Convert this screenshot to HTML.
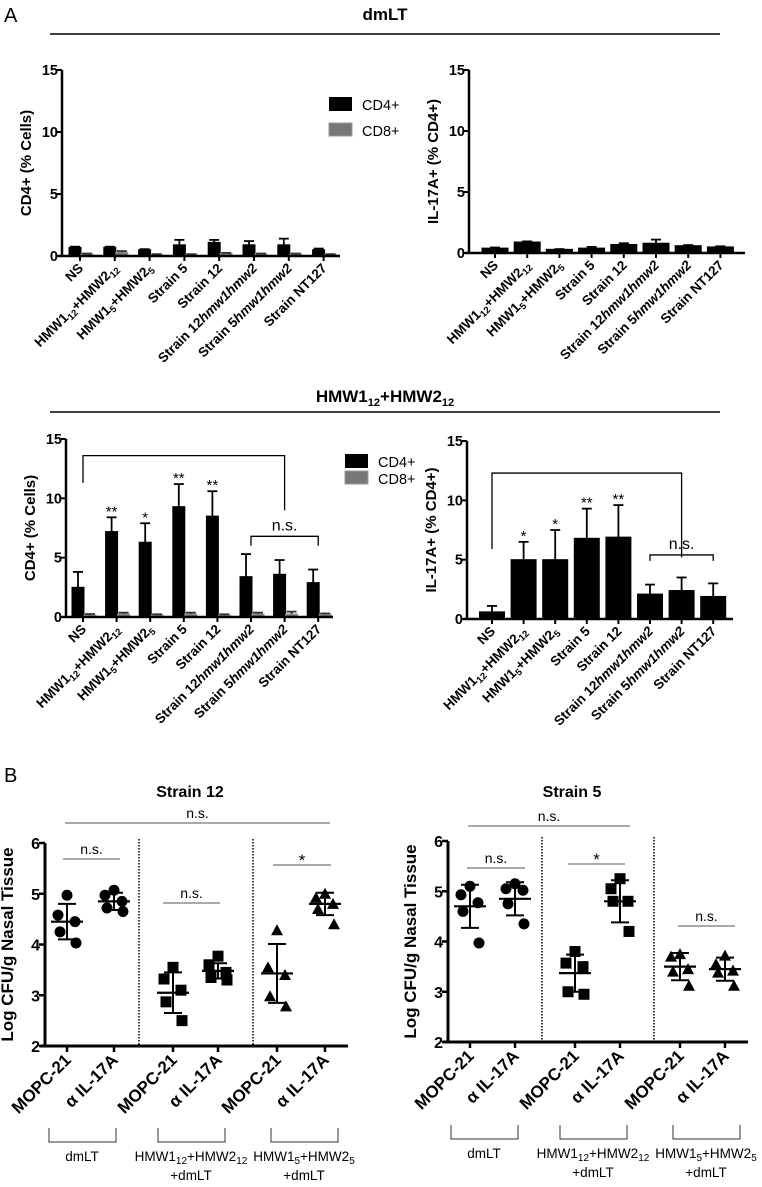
<!DOCTYPE html>
<html><head><meta charset="utf-8"><style>
html,body{margin:0;padding:0;background:#fff}
svg{display:block;font-family:"Liberation Sans",Arial,sans-serif}
</style></head><body>
<svg id="fig" width="762" height="1187" viewBox="0 0 762 1187" xmlns="http://www.w3.org/2000/svg">
<text x="4" y="22" font-size="20">A</text>
<text x="385" y="20" font-size="17" font-weight="bold" text-anchor="middle">dmLT</text>
<line x1="50" y1="34" x2="720" y2="34" stroke="#000" stroke-width="1.5"/>
<text x="385" y="402" font-size="17" font-weight="bold" text-anchor="middle">HMW1<tspan font-size="11" dy="4">12</tspan><tspan dy="-4">+HMW2</tspan><tspan font-size="11" dy="4">12</tspan></text>
<line x1="50" y1="412" x2="720" y2="412" stroke="#000" stroke-width="1.5"/>
<text x="4" y="782" font-size="20">B</text>
<text x="190" y="797" font-size="16" font-weight="bold" text-anchor="middle">Strain 12</text>
<text x="572" y="797" font-size="16" font-weight="bold" text-anchor="middle">Strain 5</text>
<g id="legend1">
<rect x="329" y="97" width="23" height="14" fill="#000"/>
<text x="362" y="110" font-size="14.5">CD4+</text>
<rect x="329" y="123" width="23" height="13" fill="#777" stroke="#999"/>
<text x="362" y="136" font-size="14.5">CD8+</text>
</g>
<g id="legend2">
<rect x="345" y="454" width="23" height="14" fill="#000"/>
<text x="378" y="467" font-size="14.5">CD4+</text>
<rect x="345" y="471" width="23" height="13" fill="#777" stroke="#999"/>
<text x="378" y="484" font-size="14.5">CD8+</text>
</g>
</svg>
<script>
// ---- data ----
const categories = ["NS","HMW1_12+HMW2_12","HMW1_5+HMW2_5","Strain 5","Strain 12","Strain 12hmw1hmw2","Strain 5hmw1hmw2","Strain NT127"];
const yTicksBar = [0,5,10,15];
const dmltCD4 = [0.7,0.7,0.5,0.9,1.1,0.9,0.9,0.5];
const dmltCD4Err = [0.05,0.05,0.05,0.4,0.2,0.3,0.5,0.1];
const dmltCD8 = [0.15,0.3,0.1,0.1,0.2,0.15,0.15,0.1];
const dmltCD8Err = [0.05,0.1,0.05,0.05,0.05,0.05,0.05,0.05];
const dmltIL17 = [0.4,0.9,0.3,0.4,0.7,0.8,0.6,0.5];
const dmltIL17Err = [0.05,0.05,0.02,0.1,0.1,0.3,0.05,0.05];
const hmwCD4 = [2.5,7.2,6.3,9.3,8.5,3.4,3.6,2.9];
const hmwCD4Err = [1.3,1.2,1.6,1.9,2.1,1.9,1.2,1.1];
const hmwCD8 = [0.15,0.25,0.15,0.25,0.15,0.25,0.25,0.2];
const hmwCD8Err = [0.1,0.12,0.08,0.12,0.08,0.12,0.2,0.1];
const hmwIL17 = [0.6,5.0,5.0,6.8,6.9,2.1,2.4,1.9];
const hmwIL17Err = [0.5,1.5,2.5,2.5,2.7,0.8,1.1,1.1];
const hmwCD4Stars = ["","**","*","**","**","","",""];
const hmwIL17Stars = ["","*","*","**","**","","",""];
const groupsB = ["MOPC-21","α IL-17A","MOPC-21","α IL-17A","MOPC-21","α IL-17A"];
const yTicksB = [2,3,4,5,6];
const s12Points = [[4.97,4.58,4.45,4.25,4.03],[5.07,4.97,4.85,4.72,4.65],[3.55,3.32,3.1,2.87,2.5],[3.77,3.6,3.45,3.35,3.3],[4.28,3.55,3.4,2.98,2.78],[5.0,4.92,4.8,4.7,4.4]];
const s12Mean = [4.45,4.85,3.05,3.48,3.43,4.8];
const s12Sd = [0.35,0.17,0.4,0.15,0.58,0.22];
const s5Points = [[5.1,4.93,4.77,4.6,3.97],[5.15,5.05,5.02,4.75,4.35],[3.8,3.57,3.5,3.0,2.95],[5.25,5.05,4.8,4.8,4.2],[3.75,3.7,3.45,3.4,3.12],[3.72,3.55,3.42,3.38,3.12]];
const s5Mean = [4.7,4.85,3.37,4.8,3.5,3.45];
const s5Sd = [0.43,0.33,0.37,0.42,0.27,0.23];
const markerShapes = ["circle","circle","square","square","triangle","triangle"];

const NS = "http://www.w3.org/2000/svg";
const svg = document.getElementById("fig");
function mk(tag, attrs, parent){const e=document.createElementNS(NS,tag);for(const k in attrs)e.setAttribute(k,attrs[k]);(parent||svg).appendChild(e);return e;}
function line(x1,y1,x2,y2,w,p,col){return mk("line",{x1,y1,x2,y2,stroke:col||"#000","stroke-width":w},p);}

function catLabel(g,text,x,y,fs){
  const t=mk("text",{x:x,y:y,"font-size":fs,"font-weight":"bold","text-anchor":"end",transform:`rotate(-45 ${x} ${y})`},g);
  
  
  const m=text.match(/^HMW1_(\d+)\+HMW2_(\d+)$/);
  if(m){
    t.innerHTML=`HMW1<tspan font-size="${fs*0.7}" dy="3">${m[1]}</tspan><tspan dy="-3">+HMW2</tspan><tspan font-size="${fs*0.7}" dy="3">${m[2]}</tspan>`;
  } else if(text.indexOf("hmw1hmw2")>0){
    t.innerHTML=text.replace("hmw1hmw2","<tspan font-style=\"italic\">hmw1hmw2</tspan>");
  } else t.textContent=text;
}

function barChart(o){
  const g=mk("g",{});
  
  
  const y=v=>o.y0-(v/15)*(o.y0-o.y15);
  const xc=i=>o.xs+i*o.step;
  o.series.forEach((s,si)=>{
    s.vals.forEach((v,i)=>{
      const bx=xc(i)+s.off-o.bw/2;
      const r=mk("rect",{x:bx,y:y(v),width:o.bw,height:o.y0-y(v),fill:s.fill,stroke:s.stroke||s.fill},g);
      
      
      const ye=y(v+s.err[i]);
      const cx=xc(i)+s.off;
      const e1=line(cx,y(v),cx,ye,1.8,g,s.ecol||"#000");
      
      
      line(cx-5,ye,cx+5,ye,1.8,g,s.ecol||"#000");
      if(s.stars && s.stars[i]){
        const st=mk("text",{x:cx,y:ye-1,"font-size":15,"text-anchor":"middle"},g);
        
        
        st.textContent=s.stars[i];
      }
    });
  });
  const ya=line(o.ax,o.y15,o.ax,o.y0+1,2.5,g);
  
  
  const xa=line(o.ax-4,o.y0,o.xend,o.y0,2.5,g);
  
  
  yTicksBar.forEach(t=>{
    line(o.ax-5,y(t),o.ax,y(t),2,g);
    const tl=mk("text",{x:o.ax-4,y:y(t)+5,"font-size":14.5,"font-weight":"bold","text-anchor":"end"},g);
    
    
    tl.textContent=t;
  });
  categories.forEach((c,i)=>{
    line(xc(i),o.y0,xc(i),o.y0+5,2,g);
    catLabel(g,c,xc(i)+4,o.y0+13,13.5);
  });
  const yt=mk("text",{x:0,y:0,"font-size":15,"font-weight":"bold","text-anchor":"middle",transform:`translate(${o.ax-31},${(o.y0+o.y15)/2}) rotate(-90)`},g);
  
  
  yt.textContent=o.ytitle;
  if(o.brackets){
    const b=o.brackets;
    const p1=mk("path",{d:`M${xc(0)},${y(b.leftDrop)} V${y(b.top)} H${xc(6)} V${y(b.rightDrop)}`,fill:"none",stroke:"#000","stroke-width":1.3},g);
    
    
    const p2=mk("path",{d:`M${xc(5)},${y(b.nsBottom)} V${y(b.nsTop)} H${xc(7)} V${y(b.nsBottom)}`,fill:"none",stroke:"#000","stroke-width":1.3},g);
    
    
    const nt=mk("text",{x:xc(6),y:y(b.nsTop)-6,"font-size":16,"text-anchor":"middle"},g);
    
    
    nt.textContent="n.s.";
  }
}

barChart({name:"dmlt-cd4-chart",ax:62,y0:256,y15:70,xs:80,step:34.8,xend:340,bw:12,ytitle:"CD4+ (% Cells)",
  series:[{key:"cd4",vals:dmltCD4,err:dmltCD4Err,fill:"#000",off:-5},{key:"cd8",vals:dmltCD8,err:dmltCD8Err,fill:"#777",stroke:"#999",off:7,ecol:"#333"}]});
barChart({name:"dmlt-il17-chart",ax:469,y0:253,y15:70,xs:495,step:32.2,xend:745,bw:26,ytitle:"IL-17A+ (% CD4+)",
  series:[{key:"il17",vals:dmltIL17,err:dmltIL17Err,fill:"#000",off:0}]});
barChart({name:"hmw-cd4-chart",ax:66,y0:617,y15:439,xs:83,step:33.6,xend:333,bw:12,ytitle:"CD4+ (% Cells)",
  series:[{key:"cd4",vals:hmwCD4,err:hmwCD4Err,fill:"#000",off:-5,stars:hmwCD4Stars},{key:"cd8",vals:hmwCD8,err:hmwCD8Err,fill:"#777",stroke:"#999",off:7,ecol:"#333"}],
  brackets:{top:13.6,leftDrop:11.3,rightDrop:9.0,nsTop:6.8,nsBottom:6.0}});
barChart({name:"hmw-il17-chart",ax:467,y0:619,y15:441,xs:492,step:31.6,xend:733,bw:25,ytitle:"IL-17A+ (% CD4+)",
  series:[{key:"il17",vals:hmwIL17,err:hmwIL17Err,fill:"#000",off:0,stars:hmwIL17Stars}],
  brackets:{top:12.3,leftDrop:5.9,rightDrop:5.2,nsTop:5.4,nsBottom:4.9}});

function scatter(o){
  const g=mk("g",{});
  
  
  const y=v=>o.y2-(v-2)/4*(o.y2-o.y6);
  o.xs.forEach((x,i)=>{
    o.pts[i].forEach((v,j)=>{
      const dx=[0,-9,8,-7,9][j];
      const px=x+dx, py=y(v);
      let m;
      if(markerShapes[i]==="circle") m=mk("circle",{cx:px,cy:py,r:5.5,fill:"#000"},g);
      else if(markerShapes[i]==="square") m=mk("rect",{x:px-5.5,y:py-5.5,width:11,height:11,fill:"#000"},g);
      else m=mk("polygon",{points:`${px},${py-6} ${px-6},${py+5} ${px+6},${py+5}`,fill:"#000"},g);
      
      
    });
    const mn=o.mean[i], sd=o.sd[i];
    const ml=line(x-16,y(mn),x+16,y(mn),2.2,g);
    
    
    line(x,y(mn+sd),x,y(mn-sd),2,g);
    line(x-9,y(mn+sd),x+9,y(mn+sd),2,g);
    line(x-9,y(mn-sd),x+9,y(mn-sd),2,g);
    line(x,o.y2,x,o.y2+6,2.5,g);
    const tl=mk("text",{x:x+5,y:o.y2+15,"font-size":17,"font-weight":"bold","text-anchor":"end",transform:`rotate(-45 ${x+5} ${o.y2+15})`},g);
    
    
    tl.textContent=groupsB[i];
  });
  o.dots.forEach(dx=>{
    const d=mk("line",{x1:dx,y1:o.y6-4,x2:dx,y2:o.y2,stroke:"#000","stroke-width":1.5,"stroke-dasharray":"1.5,1.5"},g);
    
    
  });
  const ya=line(o.ax,o.y6,o.ax,o.y2+1,3,g);
  
  
  const xa=line(o.ax-5,o.y2,o.xend,o.y2,3,g);
  
  
  yTicksB.forEach(t=>{
    line(o.ax-6,y(t),o.ax,y(t),2.5,g);
    const tl=mk("text",{x:o.ax-5,y:y(t)+6,"font-size":16,"font-weight":"bold","text-anchor":"end"},g);
    
    
    tl.textContent=t;
  });
  const yt=mk("text",{x:0,y:0,"font-size":17,"font-weight":"bold","text-anchor":"middle",transform:`translate(${o.ax-32},${(o.y2+o.y6)/2}) rotate(-90)`},g);
  
  
  yt.textContent="Log CFU/g Nasal Tissue";
  o.sig.forEach(s=>{
    const l=line(s[0],s[2],s[1],s[2],1,g,"#555");
    
    
    const t=mk("text",{x:(s[0]+s[1])/2,y:s[2]-(s[3]==="*"?-1:5),"font-size":s[3]==="*"?17:14,"text-anchor":"middle"},g);
    
    
    t.textContent=s[3];
  });
  const labs=[["dmLT",""],["HMW1|12|+HMW2|12|","+dmLT"],["HMW1|5|+HMW2|5|","+dmLT"]];
  o.br.forEach((b,k)=>{
    const p=mk("path",{d:`M${b},${o.bry} v14 h67 v-14`,fill:"none",stroke:"#333","stroke-width":1},g);
    
    
    const t=mk("text",{x:b+33,y:o.bry+33,"font-size":13.5,"text-anchor":"middle"},g);
    
    
    const parts=labs[k][0].split("|");
    if(parts.length>1) t.innerHTML=`${parts[0]}<tspan font-size="10" dy="3">${parts[1]}</tspan><tspan dy="-3">${parts[2]}</tspan><tspan font-size="10" dy="3">${parts[3]}</tspan>`;
    else t.textContent=parts[0];
    if(labs[k][1]){
      const t2=mk("text",{x:b+33,y:o.bry+52,"font-size":13.5,"text-anchor":"middle"},g);
      
      
      t2.textContent=labs[k][1];
    }
  });
}

scatter({name:"strain12-scatter",ax:45,y6:843,y2:1046,xend:348,xs:[67,114,173,218,277,325],pts:s12Points,mean:s12Mean,sd:s12Sd,
  dots:[139,253],sig:[[65,330,823,"n.s."],[63,120,859,"n.s."],[163,220,903,"n.s."],[273,331,865,"*"]],br:[49,158,271],bry:1128});
scatter({name:"strain5-scatter",ax:448,y6:841,y2:1042,xend:748,xs:[470,515,575,620,680,725],pts:s5Points,mean:s5Mean,sd:s5Sd,
  dots:[542,654],sig:[[468,630,826,"n.s."],[467,525,868,"n.s."],[568,625,864,"*"],[678,735,926,"n.s."]],br:[451,560,673],bry:1125});
</script>
</body></html>
